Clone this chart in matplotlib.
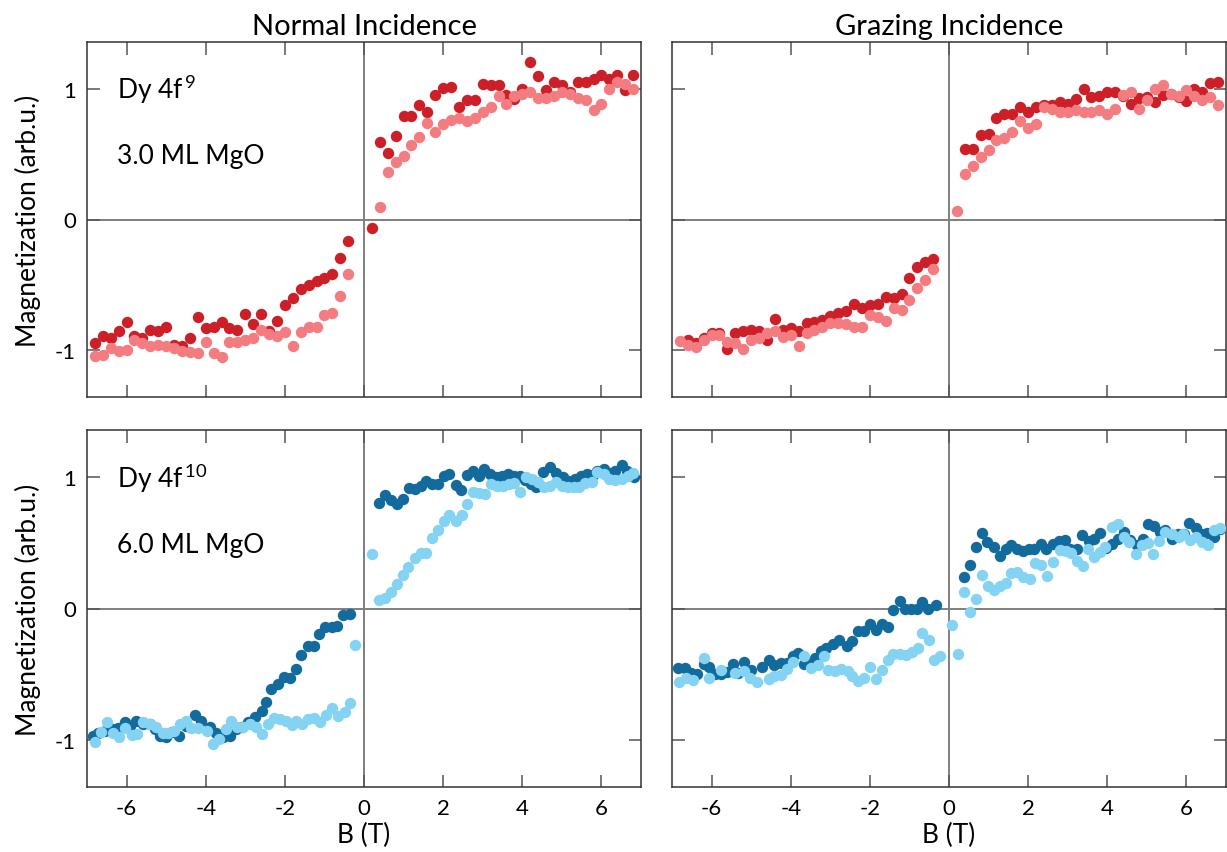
import matplotlib
matplotlib.use("Agg")
import matplotlib.pyplot as plt

plt.rcParams["font.family"] = ["Lato", "DejaVu Sans"]
plt.rcParams["mathtext.fontset"] = "custom"
plt.rcParams["mathtext.rm"] = "Lato"
plt.rcParams["mathtext.it"] = "Lato"

DARK_RED = "#cc1f28"
LIGHT_RED = "#f27c80"
DARK_BLUE = "#136a9c"
LIGHT_BLUE = "#84d3f3"

# ---- Dy 4f9, 3.0 ML MgO, normal incidence ----
ni9_dark_B = [-6.8, -6.6, -6.4, -6.2, -6.0, -5.8, -5.6, -5.4, -5.2, -5.0, -4.8, -4.6, -4.4, -4.2, -4.0, -3.8,
              -3.6, -3.4, -3.2, -3.0, -2.8, -2.6, -2.4, -2.2, -2.0, -1.8, -1.6, -1.4, -1.2, -1.0, -0.8, -0.6, -0.4,
              0.2, 0.4, 0.6, 0.8, 1.0, 1.2, 1.4, 1.6, 1.8, 2.0, 2.2, 2.4, 2.6, 2.8, 3.0, 3.2, 3.4,
              3.6, 3.8, 4.0, 4.2, 4.4, 4.6, 4.8, 5.0, 5.2, 5.4, 5.6, 5.8, 6.0, 6.2, 6.4, 6.6, 6.8]
ni9_dark_M = [-0.947, -0.89, -0.91, -0.858, -0.787, -0.89, -0.91, -0.845, -0.858, -0.82, -0.964, -0.967,
              -0.91, -0.744, -0.835, -0.82, -0.782, -0.835, -0.843, -0.724, -0.8, -0.724, -0.858, -0.775,
              -0.658, -0.6, -0.529, -0.504, -0.47, -0.445, -0.415, -0.296, -0.162,
              -0.066, 0.59, 0.51, 0.64, 0.79, 0.79, 0.875, 0.825, 0.957, 1.007, 1.015, 0.863, 0.919, 0.919,
              1.04, 1.03, 1.03, 0.957, 0.926, 0.997, 1.205, 1.099, 0.99, 1.053, 1.03, 0.98, 1.057, 1.057,
              1.073, 1.108, 1.078, 1.11, 0.99, 1.11]
ni9_light_B = [-6.8, -6.6, -6.4, -6.2, -6.0, -5.8, -5.6, -5.4, -5.2, -5.0, -4.8, -4.6, -4.4, -4.2, -4.0, -3.8,
               -3.6, -3.4, -3.2, -3.0, -2.8, -2.6, -2.4, -2.2, -2.0, -1.8, -1.6, -1.4, -1.2, -1.0, -0.8, -0.6, -0.4,
               0.4, 0.6, 0.8, 1.0, 1.2, 1.4, 1.6, 1.8, 2.0, 2.2, 2.4, 2.6, 2.8, 3.0, 3.2, 3.4,
               3.6, 3.8, 4.0, 4.2, 4.4, 4.6, 4.8, 5.0, 5.2, 5.4, 5.6, 5.8, 6.0, 6.2, 6.4, 6.6, 6.8]
ni9_light_M = [-1.048, -1.035, -0.985, -1.01, -1.0, -0.926, -0.947, -0.967, -0.96, -0.967, -0.985, -1.01,
               -1.018, -1.02, -0.94, -1.02, -1.053, -0.94, -0.94, -0.926, -0.91, -0.845, -0.88, -0.89,
               -0.86, -0.967, -0.86, -0.82, -0.82, -0.73, -0.715, -0.585, -0.42,
               0.096, 0.362, 0.44, 0.49, 0.57, 0.63, 0.737, 0.668, 0.735, 0.762, 0.775, 0.755, 0.775,
               0.825, 0.863, 0.947, 0.888, 0.947, 0.964, 0.98, 0.93, 0.93, 0.947, 0.977, 0.964, 0.93,
               0.913, 0.838, 0.888, 1.0, 1.053, 1.04, 1.0]

# ---- Dy 4f9, grazing incidence ----
gi9_dark_B = [-6.6, -6.4, -6.2, -6.0, -5.8, -5.6, -5.4, -5.2, -5.0, -4.8, -4.6, -4.4, -4.2, -4.0, -3.8,
              -3.6, -3.4, -3.2, -3.0, -2.8, -2.6, -2.4, -2.2, -2.0, -1.8, -1.6, -1.4, -1.2, -1.0, -0.8, -0.6, -0.4,
              0.4, 0.6, 0.8, 1.0, 1.2, 1.4, 1.6, 1.8, 2.0, 2.2, 2.4, 2.6, 2.8, 3.0, 3.2, 3.4,
              3.6, 3.8, 4.0, 4.2, 4.4, 4.6, 4.8, 5.0, 5.2, 5.4, 5.6, 5.8, 6.0, 6.2, 6.4, 6.6, 6.8]
gi9_dark_M = [-0.92, -0.947, -0.91, -0.87, -0.87, -0.99, -0.87, -0.858, -0.845, -0.858, -0.92, -0.762,
              -0.85, -0.835, -0.858, -0.79, -0.782, -0.77, -0.74, -0.72, -0.7, -0.65, -0.68, -0.655,
              -0.645, -0.592, -0.6, -0.567, -0.445, -0.364, -0.327, -0.306,
              0.54, 0.54, 0.648, 0.652, 0.775, 0.805, 0.81, 0.863, 0.82, 0.863, 0.875, 0.88, 0.9, 0.888,
              0.92, 1.0, 0.94, 0.95, 0.977, 0.98, 0.95, 0.888, 0.93, 0.94, 0.9, 0.957, 0.964, 0.94,
              0.905, 1.0, 0.98, 1.045, 1.057]
gi9_light_B = [-6.8, -6.6, -6.4, -6.2, -6.0, -5.8, -5.6, -5.4, -5.2, -5.0, -4.8, -4.6, -4.4, -4.2, -4.0, -3.8,
               -3.6, -3.4, -3.2, -3.0, -2.8, -2.6, -2.4, -2.2, -2.0, -1.8, -1.6, -1.4, -1.2, -1.0, -0.8, -0.6, -0.4,
               0.2, 0.4, 0.6, 0.8, 1.0, 1.2, 1.4, 1.6, 1.8, 2.0, 2.2, 2.4, 2.6, 2.8, 3.0, 3.2, 3.4,
               3.6, 3.8, 4.0, 4.2, 4.4, 4.6, 4.8, 5.0, 5.2, 5.4, 5.6, 5.8, 6.0, 6.2, 6.4, 6.6, 6.8]
gi9_light_M = [-0.934, -0.96, -0.977, -0.926, -0.883, -0.883, -0.94, -0.947, -0.99, -0.926, -0.91, -0.87,
               -0.858, -0.9, -0.883, -0.97, -0.87, -0.85, -0.82, -0.79, -0.79, -0.8, -0.825, -0.82,
               -0.73, -0.745, -0.775, -0.68, -0.69, -0.62, -0.524, -0.466, -0.377,
               0.066, 0.35, 0.408, 0.476, 0.534, 0.61, 0.622, 0.673, 0.754, 0.704, 0.73, 0.863, 0.845,
               0.82, 0.82, 0.838, 0.825, 0.82, 0.838, 0.805, 0.85, 0.957, 0.977, 0.845, 0.913, 0.997,
               1.03, 0.964, 0.95, 0.99, 0.947, 0.913, 0.94, 0.875]

# ---- Dy 4f10, 6.0 ML MgO, normal incidence ----
ni10_dark_B = [-6.86, -6.72, -6.55, -6.38, -6.21, -6.04, -5.92, -5.75, -5.58, -5.41, -5.29, -5.15, -5.01,
               -4.84, -4.68, -4.51, -4.28, -4.11, -3.9, -3.73, -3.56, -3.39, -3.24, -3.08, -2.93, -2.76,
               -2.59, -2.47, -2.34, -2.17, -2.03, -1.86, -1.71, -1.58, -1.41, -1.27, -1.13, -0.99, -0.82,
               -0.67, -0.52, -0.35,
               0.37, 0.52, 0.69, 0.83, 0.98, 1.13, 1.28, 1.43, 1.57, 1.72, 1.87, 2.01, 2.16, 2.33, 2.45,
               2.6, 2.75, 2.9, 3.04, 3.19, 3.34, 3.49, 3.65, 3.8, 3.94, 4.08, 4.22, 4.35, 4.52, 4.69,
               4.85, 5.02, 5.17, 5.34, 5.48, 5.63, 5.78, 5.9, 6.06, 6.2, 6.35, 6.51, 6.65, 6.83]
ni10_dark_M = [-0.97, -0.945, -0.93, -0.92, -0.91, -0.864, -0.894, -0.856, -0.88, -0.88, -0.92, -0.97,
               -0.98, -0.94, -0.97, -0.894, -0.813, -0.856, -0.906, -0.945, -0.98, -0.97, -0.92, -0.906,
               -0.868, -0.823, -0.78, -0.712, -0.617, -0.578, -0.52, -0.528, -0.46, -0.351, -0.288,
               -0.282, -0.192, -0.142, -0.142, -0.131, -0.048, -0.04,
               0.805, 0.861, 0.83, 0.80, 0.837, 0.919, 0.911, 0.93, 0.97, 0.95, 0.95, 1.012, 1.025,
               0.944, 0.904, 1.02, 1.045, 1.012, 1.063, 1.025, 1.0, 1.012, 1.025, 1.012, 1.012, 0.98,
               0.95, 0.925, 1.042, 1.075, 1.03, 1.005, 0.975, 0.987, 1.012, 1.025, 1.02, 1.05, 1.063,
               1.03, 1.05, 1.095, 1.05, 1.0]
ni10_light_B = [-6.8, -6.65, -6.5, -6.35, -6.19, -6.04, -5.87, -5.73, -5.58, -5.41, -5.26, -5.09, -4.95,
                -4.8, -4.65, -4.5, -4.36, -4.19, -3.98, -3.81, -3.66, -3.49, -3.35, -3.2, -3.06, -2.89,
                -2.74, -2.59, -2.42, -2.27, -2.13, -1.97, -1.83, -1.71, -1.56, -1.41, -1.27, -1.12, -0.95,
                -0.8, -0.66, -0.49, -0.36, -0.22,
                0.21, 0.37, 0.52, 0.67, 0.83, 0.98, 1.12, 1.28, 1.43, 1.57, 1.72, 1.87, 2.01, 2.16, 2.33,
                2.48, 2.6, 2.75, 2.9, 3.06, 3.21, 3.35, 3.5, 3.66, 3.8, 3.95, 4.1, 4.25, 4.39, 4.54, 4.7,
                4.85, 5.0, 5.15, 5.3, 5.44, 5.59, 5.75, 5.9, 6.06, 6.2, 6.35, 6.51, 6.66, 6.81]
ni10_light_M = [-1.02, -0.94, -0.868, -0.945, -0.98, -0.91, -0.96, -0.955, -0.868, -0.88, -0.906, -0.945,
                -0.945, -0.93, -0.88, -0.856, -0.91, -0.91, -0.93, -1.03, -0.995, -0.92, -0.856, -0.906,
                -0.9, -0.88, -0.906, -0.955, -0.88, -0.836, -0.84, -0.856, -0.89, -0.856, -0.88, -0.84,
                -0.836, -0.868, -0.81, -0.76, -0.82, -0.79, -0.722, -0.275,
                0.414, 0.065, 0.078, 0.129, 0.186, 0.255, 0.313, 0.386, 0.42, 0.425, 0.538, 0.6, 0.667,
                0.709, 0.67, 0.709, 0.793, 0.886, 0.878, 0.873, 0.95, 0.936, 0.936, 0.95, 0.955, 0.886,
                1.0, 0.987, 0.962, 0.925, 0.93, 0.962, 0.936, 0.925, 0.925, 0.925, 0.955, 0.962, 1.037,
                1.025, 0.987, 0.98, 0.987, 1.012, 1.03]

# ---- Dy 4f10, grazing incidence ----
gi10_dark_B = [-6.85, -6.68, -6.52, -6.36, -6.2, -6.06, -5.91, -5.76, -5.61, -5.46, -5.33, -5.17, -5.0,
               -4.73, -4.56, -4.41, -4.24, -4.09, -3.95, -3.82, -3.66, -3.52, -3.38, -3.24, -3.1, -2.93,
               -2.78, -2.59, -2.44, -2.31, -2.15, -2.0, -1.85, -1.7, -1.55, -1.41, -1.24, -1.11, -0.96,
               -0.81, -0.67, -0.52, -0.33,
               0.38, 0.52, 0.67, 0.83, 0.97, 1.13, 1.28, 1.43, 1.57, 1.72, 1.87, 2.01, 2.16, 2.32, 2.46,
               2.63, 2.77, 2.92, 3.07, 3.24, 3.36, 3.53, 3.67, 3.81, 3.96, 4.11, 4.28, 4.43, 4.58, 4.75,
               4.9, 5.02, 5.19, 5.33, 5.46, 5.63, 5.78, 5.95, 6.07, 6.24, 6.39, 6.53, 6.69, 6.84]
gi10_dark_M = [-0.452, -0.452, -0.49, -0.5, -0.42, -0.445, -0.5, -0.5, -0.485, -0.42, -0.49, -0.41, -0.47,
               -0.445, -0.394, -0.427, -0.415, -0.415, -0.364, -0.34, -0.42, -0.415, -0.377, -0.327, -0.3,
               -0.268, -0.237, -0.288, -0.25, -0.174, -0.174, -0.12, -0.162, -0.12, -0.142, -0.015, 0.06,
               0.0, 0.0, 0.0, 0.053, 0.0, 0.028,
               0.242, 0.33, 0.47, 0.575, 0.508, 0.47, 0.4, 0.45, 0.482, 0.45, 0.44, 0.45, 0.457, 0.49,
               0.457, 0.49, 0.515, 0.525, 0.457, 0.457, 0.558, 0.515, 0.533, 0.575, 0.462, 0.495, 0.533,
               0.583, 0.525, 0.482, 0.533, 0.646, 0.626, 0.583, 0.596, 0.533, 0.57, 0.57, 0.651, 0.616,
               0.57, 0.575, 0.545, 0.608]
gi10_light_B = [-6.82, -6.65, -6.48, -6.2, -6.06, -5.76, -5.42, -5.17, -5.02, -4.85, -4.56, -4.41, -4.24,
                -4.09, -3.95, -3.66, -3.49, -3.32, -3.15, -3.05, -2.88, -2.73, -2.56, -2.44, -2.29, -2.14,
                -2.0, -1.85, -1.7, -1.55, -1.41, -1.24, -1.09, -0.94, -0.79, -0.68, -0.51, -0.37, -0.24,
                0.07, 0.22, 0.38, 0.54, 0.67, 0.83, 0.98, 1.13, 1.28, 1.45, 1.57, 1.72, 1.88, 2.04, 2.17,
                2.33, 2.48, 2.63, 2.8, 2.96, 3.09, 3.24, 3.39, 3.51, 3.67, 3.81, 3.94, 4.11, 4.28, 4.41,
                4.56, 4.72, 4.87, 5.02, 5.16, 5.31, 5.46, 5.63, 5.8, 5.92, 6.08, 6.24, 6.39, 6.54, 6.69, 6.84]
gi10_light_M = [-0.56, -0.528, -0.548, -0.377, -0.528, -0.47, -0.495, -0.478, -0.528, -0.56, -0.54, -0.515,
                -0.51, -0.46, -0.41, -0.36, -0.452, -0.427, -0.364, -0.47, -0.478, -0.46, -0.478, -0.515,
                -0.553, -0.528, -0.445, -0.535, -0.47, -0.394, -0.343, -0.343, -0.351, -0.333, -0.3,
                -0.187, -0.238, -0.39, -0.36,
                -0.124, -0.35, 0.129, -0.023, 0.073, 0.255, 0.171, 0.14, 0.171, 0.196, 0.267, 0.28, 0.237,
                0.222, 0.348, 0.33, 0.247, 0.353, 0.449, 0.44, 0.424, 0.363, 0.323, 0.457, 0.393, 0.43,
                0.47, 0.621, 0.641, 0.545, 0.507, 0.419, 0.482, 0.5, 0.414, 0.515, 0.583, 0.57, 0.545,
                0.57, 0.52, 0.545, 0.507, 0.482, 0.6, 0.616]

col_titles = ["Normal Incidence", "Grazing Incidence"]
row_labels = [("Dy 4f$^{\\,9}$", "3.0 ML MgO"), ("Dy 4f$^{\\,10}$", "6.0 ML MgO")]
x_ticks = [-6, -4, -2, 0, 2, 4, 6]
y_ticks = [-1, 0, 1]

W, H = 1227, 853
fig = plt.figure(figsize=(W / 100, H / 100), dpi=100)

# panel boxes in pixels: (left, right) per column, (top, bottom) per row
cols = [(87, 641), (672, 1226)]
rows = [(43, 398), (431, 788)]

panels = [
    [(ni9_dark_B, ni9_dark_M, ni9_light_B, ni9_light_M, DARK_RED, LIGHT_RED),
     (gi9_dark_B, gi9_dark_M, gi9_light_B, gi9_light_M, DARK_RED, LIGHT_RED)],
    [(ni10_dark_B, ni10_dark_M, ni10_light_B, ni10_light_M, DARK_BLUE, LIGHT_BLUE),
     (gi10_dark_B, gi10_dark_M, gi10_light_B, gi10_light_M, DARK_BLUE, LIGHT_BLUE)],
]

for r, (top, bot) in enumerate(rows):
    for c, (lft, rgt) in enumerate(cols):
        ax = fig.add_axes([lft / W, 1 - bot / H, (rgt - lft) / W, (bot - top) / H])
        bd, md, bl, ml, cd, cl = panels[r][c]
        ax.axhline(0, color="#7f7f7f", lw=1.4, zorder=1)
        ax.axvline(0, color="#7f7f7f", lw=1.4, zorder=1)
        ax.plot(bd, md, "o", color=cd, ms=8.2, mew=0, zorder=3)
        ax.plot(bl, ml, "o", color=cl, ms=8.2, mew=0, zorder=3)
        ax.set_xlim(-7, 7)
        ax.set_ylim(-1.36, 1.36)
        ax.set_xticks(x_ticks)
        ax.set_yticks(y_ticks)
        ax.tick_params(direction="in", length=9, width=1.1, color="#555555",
                       top=True, right=True, labelsize=16, pad=8)
        for s in ax.spines.values():
            s.set_color("#333333")
            s.set_linewidth(1.1)
        if r == 0:
            ax.set_xticklabels([])
            ax.set_title(col_titles[c], fontsize=21, pad=6)
        else:
            ax.set_xticklabels([str(t) for t in x_ticks])
            ax.set_xlabel("B (T)", fontsize=19, labelpad=3)
        if c == 1:
            ax.set_yticklabels([])
        else:
            ax.set_yticklabels([str(t) for t in y_ticks])
            ax.set_ylabel("Magnetization (arb.u.)", fontsize=19, labelpad=10)
            ax.text(-6.25, 1.0, row_labels[r][0], fontsize=19, va="center", ha="left")
            ax.text(-6.25, 0.49, row_labels[r][1], fontsize=19, va="center", ha="left")

fig.savefig("out.png", dpi=100)
